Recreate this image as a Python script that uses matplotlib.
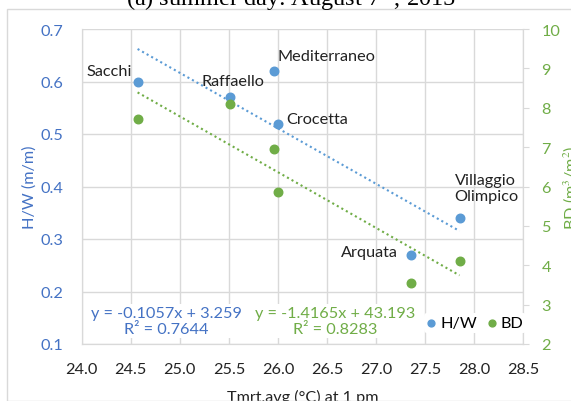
import numpy as np
import matplotlib
matplotlib.use('Agg')
import matplotlib.pyplot as plt
from matplotlib.patches import Rectangle

plt.rcParams['font.family'] = ['Lato', 'DejaVu Sans']
plt.rcParams['mathtext.fontset'] = 'stix'

# data
sites = ['Sacchi', 'Raffaello', 'Mediterraneo', 'Crocetta', 'Arquata', 'Villaggio\nOlimpico']
tmrt = [24.57, 25.51, 25.96, 26.0, 27.36, 27.85]
hw = [0.60, 0.57, 0.62, 0.52, 0.27, 0.34]
bd = [7.72, 8.10, 6.96, 5.87, 3.55, 4.11]
hw_fit = (-0.1057, 3.259, 0.7644)
bd_fit = (-1.4165, 43.193, 0.8283)

# label offsets in pixels (x, y)
label_off = [(-28, 10), (3, 16), (52, 15), (39, 5), (-42, 3), (27, 30)]

blue = '#5B9BD5'
blue_txt = '#4472C4'
green = '#70AD47'
grid_c = '#D9D9D9'
fs = 11.7

fig = plt.figure(figsize=(5.71, 4.02), dpi=100)
fig.patches.append(Rectangle((6.7 / 571, 0), 1, 1 - 9.5 / 402, transform=fig.transFigure,
                             fill=False, edgecolor=grid_c, lw=1))
ax = fig.add_axes([0.143, 1 - 345 / 402, 0.7735, 315 / 402])
ax2 = ax.twinx()

ax.set_xlim(24.0, 28.5)
ax.set_ylim(0.1, 0.7)
ax2.set_ylim(2, 10)
ax.set_xticks(np.arange(24.0, 28.51, 0.5))
ax.set_xticklabels([f'{v:.1f}' for v in np.arange(24.0, 28.51, 0.5)])
ax.set_yticks(np.arange(0.1, 0.71, 0.1))
ax.set_yticklabels([f'{v:.1f}' for v in np.arange(0.1, 0.71, 0.1)])
ax2.set_yticks(range(2, 11))

ax.grid(True, color=grid_c, lw=1)
ax.set_axisbelow(True)
for a in (ax, ax2):
    for s in a.spines.values():
        s.set_color(grid_c)
    a.spines['top'].set_visible(False)
ax.tick_params(axis='x', length=0, labelsize=fs, colors='#222222', pad=13)
ax.tick_params(axis='y', length=0, labelsize=fs, labelcolor=blue_txt, pad=13)
ax2.tick_params(axis='y', length=4, color=grid_c, labelsize=fs, labelcolor=green, pad=9)

ax.set_xlabel('Tmrt,avg (°C) at 1 pm', fontsize=fs, color='#222222', labelpad=9)
ax.set_ylabel('H/W (m/m)', fontsize=fs, color=blue_txt, labelpad=3)
ax2.set_ylabel('BD (m$^3$/m$^2$)', fontsize=fs, color=green)
ax2.yaxis.set_label_coords(1.0 + (561 - 523.3) / 441.6, 0.5)

# trendlines
xs = np.array([min(tmrt), max(tmrt)])
ax.plot(xs, hw_fit[0] * xs + hw_fit[1], color=blue, lw=1.5, ls=(0, (1, 1.5)), zorder=2)
ax2.plot(xs, bd_fit[0] * xs + bd_fit[1], color=green, lw=1.5, ls=(0, (1, 1.5)), zorder=2)

ax.scatter(tmrt, hw, s=38, color=blue, zorder=3, label='H/W')
ax2.scatter(tmrt, bd, s=38, color=green, zorder=3, label='BD')

for name, x, y, off in zip(sites, tmrt, hw, label_off):
    ax2.annotate(name, xy=(x, 2 + (y - 0.1) / 0.6 * 8), xytext=off, textcoords='offset pixels',
                 ha='center', va='center', fontsize=fs, color='#222222',
                 multialignment='left', linespacing=1.15, zorder=5)

# equation boxes
bbox = dict(boxstyle='square,pad=0.15', fc='white', ec='none')
fig.text(166 / 571, 1 - 322 / 402,
         f'y = {hw_fit[0]:.4f}x + {hw_fit[1]:.3f}\nR² = {hw_fit[2]:.4f}',
         ha='center', va='center', fontsize=fs, color=blue_txt, linespacing=1.1, bbox=bbox)
fig.text(335 / 571, 1 - 322 / 402,
         f'y = {bd_fit[0]:.4f}x + {bd_fit[1]:.3f}\nR² = {bd_fit[2]:.4f}',
         ha='center', va='center', fontsize=fs, color=green, linespacing=1.1, bbox=bbox)

h1, l1 = ax.get_legend_handles_labels()
h2, l2 = ax2.get_legend_handles_labels()
leg = fig.legend(h1 + h2, l1 + l2, loc='center left', bbox_to_anchor=(424 / 571, 1 - 324 / 402),
                 bbox_transform=fig.transFigure, ncol=2, frameon=True, fontsize=fs,
                 handletextpad=0.25, columnspacing=0.6, markerscale=0.8, borderpad=0.15,
                 borderaxespad=0, handlelength=0.6)
leg.get_frame().set_edgecolor('none')
leg.get_frame().set_facecolor('white')
leg.get_frame().set_alpha(1)
leg.set_zorder(6)

fig.text(0.51, 1 - 6 / 402, '(a) summer day: August 7$^{\\rm th}$, 2015', ha='center', va='baseline',
         fontsize=17.5, family='Liberation Serif', color='black')

fig.savefig('out.png', dpi=100)
